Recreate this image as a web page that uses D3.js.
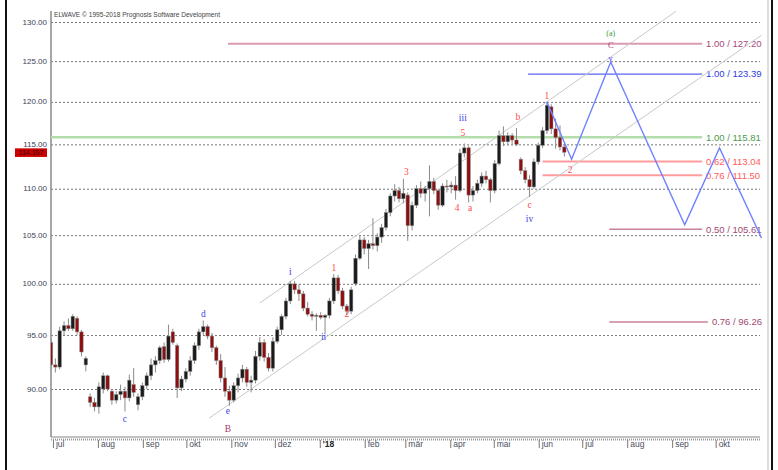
<!DOCTYPE html>
<html>
<head>
<meta charset="utf-8">
<script src="https://cdn.jsdelivr.net/npm/d3@7"></script>
<style>
  body { margin: 0; background: #fff; }
  svg { display: block; font-family: Arial, "Liberation Sans", sans-serif; }
</style>
</head>
<body>
<div id="chart"></div>
<script>
// bars are sampled every 3 calendar days starting at barStart
const barStart = new Date(2017, 5, 30);
const barStepDays = 3;
// [open, high, low, close]
const candles = [
  [94.3,94.6,91.8,92.2],[92.2,92.8,91.5,92.0],[92.0,95.8,91.8,95.4],[95.4,96.3,95.0,95.9],
  [95.9,96.6,95.4,95.6],[95.6,97.0,95.4,96.8],[96.6,96.8,95.0,95.3],[95.3,95.5,93.0,93.4],
  [92.2,93.0,91.6,92.8],[89.3,89.6,88.4,88.8],[88.8,89.2,88.0,88.4],[88.4,90.6,87.8,90.2],
  [90.0,91.5,89.6,91.2],[91.2,91.3,89.8,90.0],[89.8,90.0,88.6,89.0],[89.0,89.8,88.7,89.5],
  [89.5,90.4,89.0,89.8],[89.8,90.2,88.0,89.2],[89.2,91.3,88.9,90.8],[90.4,91.9,89.3,89.7],
  [88.6,89.6,88.1,89.3],[89.3,90.6,89.0,90.3],[90.3,91.5,90.0,91.2],[91.2,92.8,90.8,92.2],
  [92.2,93.0,91.5,92.6],[92.6,94.0,92.3,93.8],[93.9,94.3,92.4,92.7],[92.7,96.0,92.5,94.9],
  [95.3,95.6,94.1,94.3],[94.0,94.2,89.2,90.1],[90.1,91.2,89.8,90.9],[90.9,91.9,90.6,91.6],
  [91.6,93.0,91.2,92.6],[92.6,94.3,92.3,94.0],[94.0,95.6,93.6,95.3],[95.3,96.4,95.0,95.8],
  [95.8,96.0,94.6,94.9],[94.9,95.2,93.4,93.8],[93.8,94.0,92.2,92.6],[92.6,93.2,90.6,91.0],
  [91.0,92.0,89.3,89.8],[89.8,90.3,88.5,89.0],[89.0,90.6,88.8,90.3],[90.3,91.4,89.7,91.0],
  [91.0,92.2,90.6,91.8],[91.8,92.0,90.2,90.6],[90.6,91.2,89.7,90.8],[90.8,93.5,90.5,93.0],
  [93.0,94.8,92.6,94.3],[94.3,94.6,92.5,92.9],[92.9,93.3,91.6,91.9],[91.9,94.8,91.6,94.4],
  [94.4,95.8,94.2,95.5],[95.5,97.0,95.0,96.8],[96.8,98.6,96.5,98.3],[98.3,100.3,98.0,100.0],
  [100.0,100.3,99.0,99.4],[99.4,100.0,98.3,99.0],[99.0,99.3,97.3,97.6],[97.6,98.2,96.8,97.0],
  [97.0,97.3,96.4,96.8],[96.8,97.1,95.4,96.9],[96.9,97.2,96.5,96.7],[96.7,97.0,95.2,96.9],
  [96.9,98.6,96.6,98.3],[98.3,101.0,98.0,100.6],[100.6,100.9,99.0,99.3],[99.3,99.6,97.5,97.8],
  [97.8,98.0,96.9,97.3],[97.3,99.7,97.0,99.4],[100.0,103.0,99.8,102.6],[102.6,105.0,102.4,104.5],
  [104.5,104.8,103.0,103.6],[103.6,104.5,101.5,104.1],[104.1,106.8,103.5,103.9],[103.9,105.2,103.3,104.8],
  [104.8,106.2,104.2,105.8],[105.8,107.8,105.5,107.4],[107.4,109.5,107.0,109.2],[109.2,110.5,108.6,109.8],
  [109.8,110.2,108.5,108.9],[108.9,111.1,108.4,109.5],[109.3,109.6,104.4,106.0],[106.0,108.6,105.5,108.2],
  [108.2,110.4,107.9,110.0],[110.0,110.8,109.0,109.5],[109.5,110.3,108.6,110.0],[110.0,112.6,107.0,110.8],
  [110.8,111.2,109.4,109.8],[109.8,110.0,107.7,108.2],[108.2,110.6,108.0,110.3],[110.3,111.0,109.6,110.2],
  [110.2,110.8,109.5,110.4],[110.4,111.4,108.8,109.8],[109.8,114.5,109.6,114.0],[114.0,115.1,113.5,114.6],
  [114.6,114.8,108.5,109.3],[109.3,110.3,108.6,109.8],[109.8,111.0,109.5,110.6],[110.6,111.8,110.2,111.4],
  [111.4,112.0,110.6,111.0],[111.0,111.2,108.5,109.8],[109.8,113.2,109.5,112.8],[112.8,116.6,112.6,116.0],
  [116.0,117.1,114.8,115.3],[115.3,116.4,114.9,116.0],[116.0,116.3,115.0,115.5],[115.5,116.9,114.8,115.0],
  [113.3,113.5,111.6,112.0],[112.0,112.4,110.6,111.0],[111.0,111.5,109.1,110.2],[110.2,113.4,110.0,113.0],
  [113.0,115.2,112.7,114.9],[114.9,117.0,114.6,116.6],[116.6,120.0,116.2,119.6],[119.4,119.7,116.2,116.8],
  [116.8,118.0,114.5,115.8],[115.8,117.2,114.3,114.7],[114.7,115.0,113.6,114.1]
];
const lastPrice = 114.107;

const yTicks = [90, 95, 100, 105, 110, 115, 120, 125, 130];
const monthLabels = ["jul","aug","sep","okt","nov","dez","'18","feb","mär","apr","mai","jun","jul","aug","sep","okt"];

// fibonacci target levels
const levelRatio = ["1.00", "1.00", "1.00", "0.62", "0.76", "0.50", "0.76"];
const levelPrice = [127.20, 123.39, 115.81, 113.04, 111.50, 105.61, 96.26];
const levelFrom = ["2017-10-30", "2018-05-25", "2017-06-30", "2018-06-04", "2018-06-04", "2018-07-20", "2018-07-20"];
const levelTo = ["2018-09-22", "2018-09-22", "2018-09-22", "2018-09-22", "2018-09-22", "2018-09-22", "2018-09-26"];
const levelGroup = ["C", "v", "iii", "2", "2", "a", "a"];

// projected path
const projDates = ["2018-06-07", "2018-06-24", "2018-07-21", "2018-09-10", "2018-10-04", "2018-11-02"];
const projPrices = [120.0, 113.3, 124.9, 106.1, 114.6, 104.7];

// trend channel
const channelDates = [["2017-11-21", "2018-09-04"], ["2017-10-17", "2018-11-02"]];
const channelPrices = [[98.1, 131.4], [87.4, 128.3]];

// wave count labels
const waveText = ["c","d","e","B","i","ii","1","2","3","4","5","iii","a","b","c","iv","1","2","v","C","(a)"];
const waveDates = ["2017-08-20","2017-10-13","2017-10-30","2017-10-30","2017-12-12","2018-01-04","2018-01-11",
  "2018-01-20","2018-03-02","2018-04-06","2018-04-10","2018-04-10","2018-04-15","2018-05-18","2018-05-26",
  "2018-05-26","2018-06-07","2018-06-23","2018-07-21","2018-07-21","2018-07-21"];
const wavePrices = [87.4, 97.1, 88.1, 86.5, 101.2, 94.8, 101.6, 97.1, 111.9, 107.9, 116.3, 118.1, 107.9,
  118.2, 108.3, 106.8, 120.7, 112.1, 125.4, 127.0, 128.5];
const waveDegree = ["minor","minor","minor","inter","minor","minor","minute","minute","minute","minute","minute",
  "minor","minute","minute","minute","minor","minute","minute","minor","inter","primary"];

const waveColor = { minor: "#3a44e6", minute: "#ff4a4a", inter: "#a8386c", primary: "#3a9a3a" };
const levelStyle = {
  C:   { line: "#d99ab4", text: "#a84a78", w: 2 },
  v:   { line: "#5a66f2", text: "#2f3ce8", w: 1.3 },
  iii: { line: "#b3ddab", text: "#4b9b4b", w: 2.5 },
  "2": { line: "#ff9c9c", text: "#ff5a5a", w: 2 },
  a:   { line: "#c9809c", text: "#a04a72", w: 1.5 }
};

const parse = d3.timeParse("%Y-%m-%d");
const width = 778, height = 470;
const plot = { left: 51, right: 760, top: 11, bottom: 437 };

const svg = d3.select("#chart").append("svg")
  .attr("width", width)
  .attr("height", height);

const x = d3.scaleTime()
  .domain([new Date(2017, 5, 30), new Date(2018, 10, 3)])
  .range([51, 763]);

const y = d3.scaleLog()
  .domain([90, 130])
  .range([389, 22]);

svg.append("defs").append("clipPath").attr("id", "plotClip")
  .append("rect")
  .attr("x", plot.left).attr("y", plot.top)
  .attr("width", 763 - plot.left).attr("height", plot.bottom - plot.top);

// frame of the screenshot
svg.append("line").attr("x1", 6).attr("x2", 6).attr("y1", 0).attr("y2", height)
  .attr("stroke", "#111").attr("stroke-width", 2);
svg.append("line").attr("x1", 772).attr("x2", 772).attr("y1", 0).attr("y2", height)
  .attr("stroke", "#111").attr("stroke-width", 2);
svg.append("line").attr("x1", 768).attr("x2", 768).attr("y1", 0).attr("y2", height)
  .attr("stroke", "#bbb").attr("stroke-width", 1);

// y axis + dotted grid
const yAxis = svg.append("g")
  .attr("transform", `translate(${plot.left},0)`)
  .call(d3.axisLeft(y)
    .tickValues(yTicks)
    .tickFormat(d3.format(".2f"))
    .tickSize(-(plot.right - plot.left))
    .tickPadding(4));
yAxis.select(".domain").remove();
yAxis.selectAll("line")
  .attr("stroke", "#777")
  .attr("stroke-dasharray", "2,2");
yAxis.selectAll("text")
  .attr("fill", "#3c4257")
  .attr("font-size", "8px")
  .attr("dy", "0.25em");

svg.append("line")
  .attr("x1", plot.left).attr("x2", plot.left)
  .attr("y1", plot.top).attr("y2", plot.bottom)
  .attr("stroke", "#888").attr("stroke-width", 1.5);

// x axis
const monthDates = d3.timeMonth.range(new Date(2017, 6, 1), new Date(2018, 10, 1));
svg.append("line")
  .attr("x1", plot.left).attr("x2", plot.right)
  .attr("y1", plot.bottom).attr("y2", plot.bottom)
  .attr("stroke", "#888").attr("stroke-width", 1.2);
svg.append("line")
  .attr("x1", plot.left).attr("x2", plot.right)
  .attr("y1", plot.bottom + 2.5).attr("y2", plot.bottom + 2.5)
  .attr("stroke", "#999").attr("stroke-width", 2)
  .attr("stroke-dasharray", "1,1");

const xAxis = svg.append("g")
  .attr("transform", `translate(0,${plot.bottom + 3})`)
  .call(d3.axisBottom(x)
    .tickValues(monthDates)
    .tickSize(8)
    .tickFormat((d, i) => monthLabels[i]));
xAxis.select(".domain").remove();
xAxis.selectAll("line").attr("stroke", "#777").attr("transform", "translate(0.5,0)");
xAxis.selectAll("text")
  .attr("text-anchor", "start")
  .attr("x", 3)
  .attr("y", 1)
  .attr("font-size", "8.5px")
  .attr("font-weight", (d, i) => monthLabels[i] === "'18" ? "bold" : null)
  .attr("fill", (d, i) => monthLabels[i] === "'18" ? "#222" : "#4a4f60");

// title
svg.append("text")
  .attr("x", 54).attr("y", 17)
  .attr("font-size", "6.6px")
  .attr("fill", "#444")
  .text("ELWAVE © 1995-2018 Prognosis Software Development");

// level lines
const levels = levelPrice.map((p, i) => ({
  price: p, ratio: levelRatio[i], from: parse(levelFrom[i]), to: parse(levelTo[i]), st: levelStyle[levelGroup[i]]
}));
svg.selectAll(".level")
  .data(levels)
  .enter().append("line")
  .attr("x1", d => x(d.from)).attr("x2", d => x(d.to))
  .attr("y1", d => y(d.price)).attr("y2", d => y(d.price))
  .attr("stroke", d => d.st.line)
  .attr("stroke-width", d => d.st.w);
svg.selectAll(".levelLabel")
  .data(levels)
  .enter().append("text")
  .attr("x", d => x(d.to) + 4)
  .attr("y", d => y(d.price))
  .attr("dy", "0.35em")
  .attr("font-size", "9.5px")
  .attr("fill", d => d.st.text)
  .text(d => `${d.ratio} / ${d.price.toFixed(2)}`);

// channel
const chart = svg.append("g").attr("clip-path", "url(#plotClip)");
channelDates.forEach((ds, k) => {
  chart.append("line")
    .attr("x1", x(parse(ds[0]))).attr("y1", y(channelPrices[k][0]))
    .attr("x2", x(parse(ds[1]))).attr("y2", y(channelPrices[k][1]))
    .attr("stroke", "#c8c8c8").attr("stroke-width", 1);
});

// candles
const bars = candles.map((c, i) => ({
  date: d3.timeDay.offset(barStart, i * barStepDays), o: c[0], h: c[1], l: c[2], c: c[3]
}));
const bw = 3.4;
const g = chart.append("g");
g.selectAll(".wick")
  .data(bars)
  .enter().append("line")
  .attr("x1", d => x(d.date)).attr("x2", d => x(d.date))
  .attr("y1", d => y(d.h)).attr("y2", d => y(d.l))
  .attr("stroke", "#8a8a8a").attr("stroke-width", 1);
g.selectAll(".body")
  .data(bars)
  .enter().append("rect")
  .attr("x", d => x(d.date) - bw / 2)
  .attr("y", d => y(Math.max(d.o, d.c)))
  .attr("width", bw)
  .attr("height", d => Math.max(1, Math.abs(y(d.o) - y(d.c))))
  .attr("fill", d => d.c >= d.o ? "#1b1b1b" : "#8e0f0f")
  .attr("stroke", "#888")
  .attr("stroke-width", 0.5);

// projection zigzag
const proj = projDates.map((d, i) => ({ date: parse(d), price: projPrices[i] }));
chart.append("path")
  .datum(proj)
  .attr("fill", "none")
  .attr("stroke", "#7080ff")
  .attr("stroke-width", 1.4)
  .attr("d", d3.line().x(d => x(d.date)).y(d => y(d.price)));

// wave labels
svg.selectAll(".wave")
  .data(waveText.map((t, i) => ({ t, date: parse(waveDates[i]), price: wavePrices[i], deg: waveDegree[i] })))
  .enter().append("text")
  .attr("x", d => x(d.date))
  .attr("y", d => y(d.price))
  .attr("dy", "0.35em")
  .attr("text-anchor", "middle")
  .attr("font-family", "'Liberation Serif', 'DejaVu Serif', serif")
  .attr("font-size", d => d.deg === "primary" ? "8px" : (d.t === "v" || d.t === "C") ? "8.5px" : "9.5px")
  .attr("fill", d => waveColor[d.deg])
  .text(d => d.t);

// current price tag
svg.append("rect")
  .attr("x", 15).attr("y", y(lastPrice) - 3.8)
  .attr("width", 32).attr("height", 8.6)
  .attr("fill", "#cc0000");
svg.append("text")
  .attr("x", 31).attr("y", y(lastPrice) + 0.5)
  .attr("dy", "0.35em")
  .attr("text-anchor", "middle")
  .attr("font-size", "7px")
  .attr("fill", "#2a0000")
  .text(lastPrice.toFixed(3));
</script>
</body>
</html>
